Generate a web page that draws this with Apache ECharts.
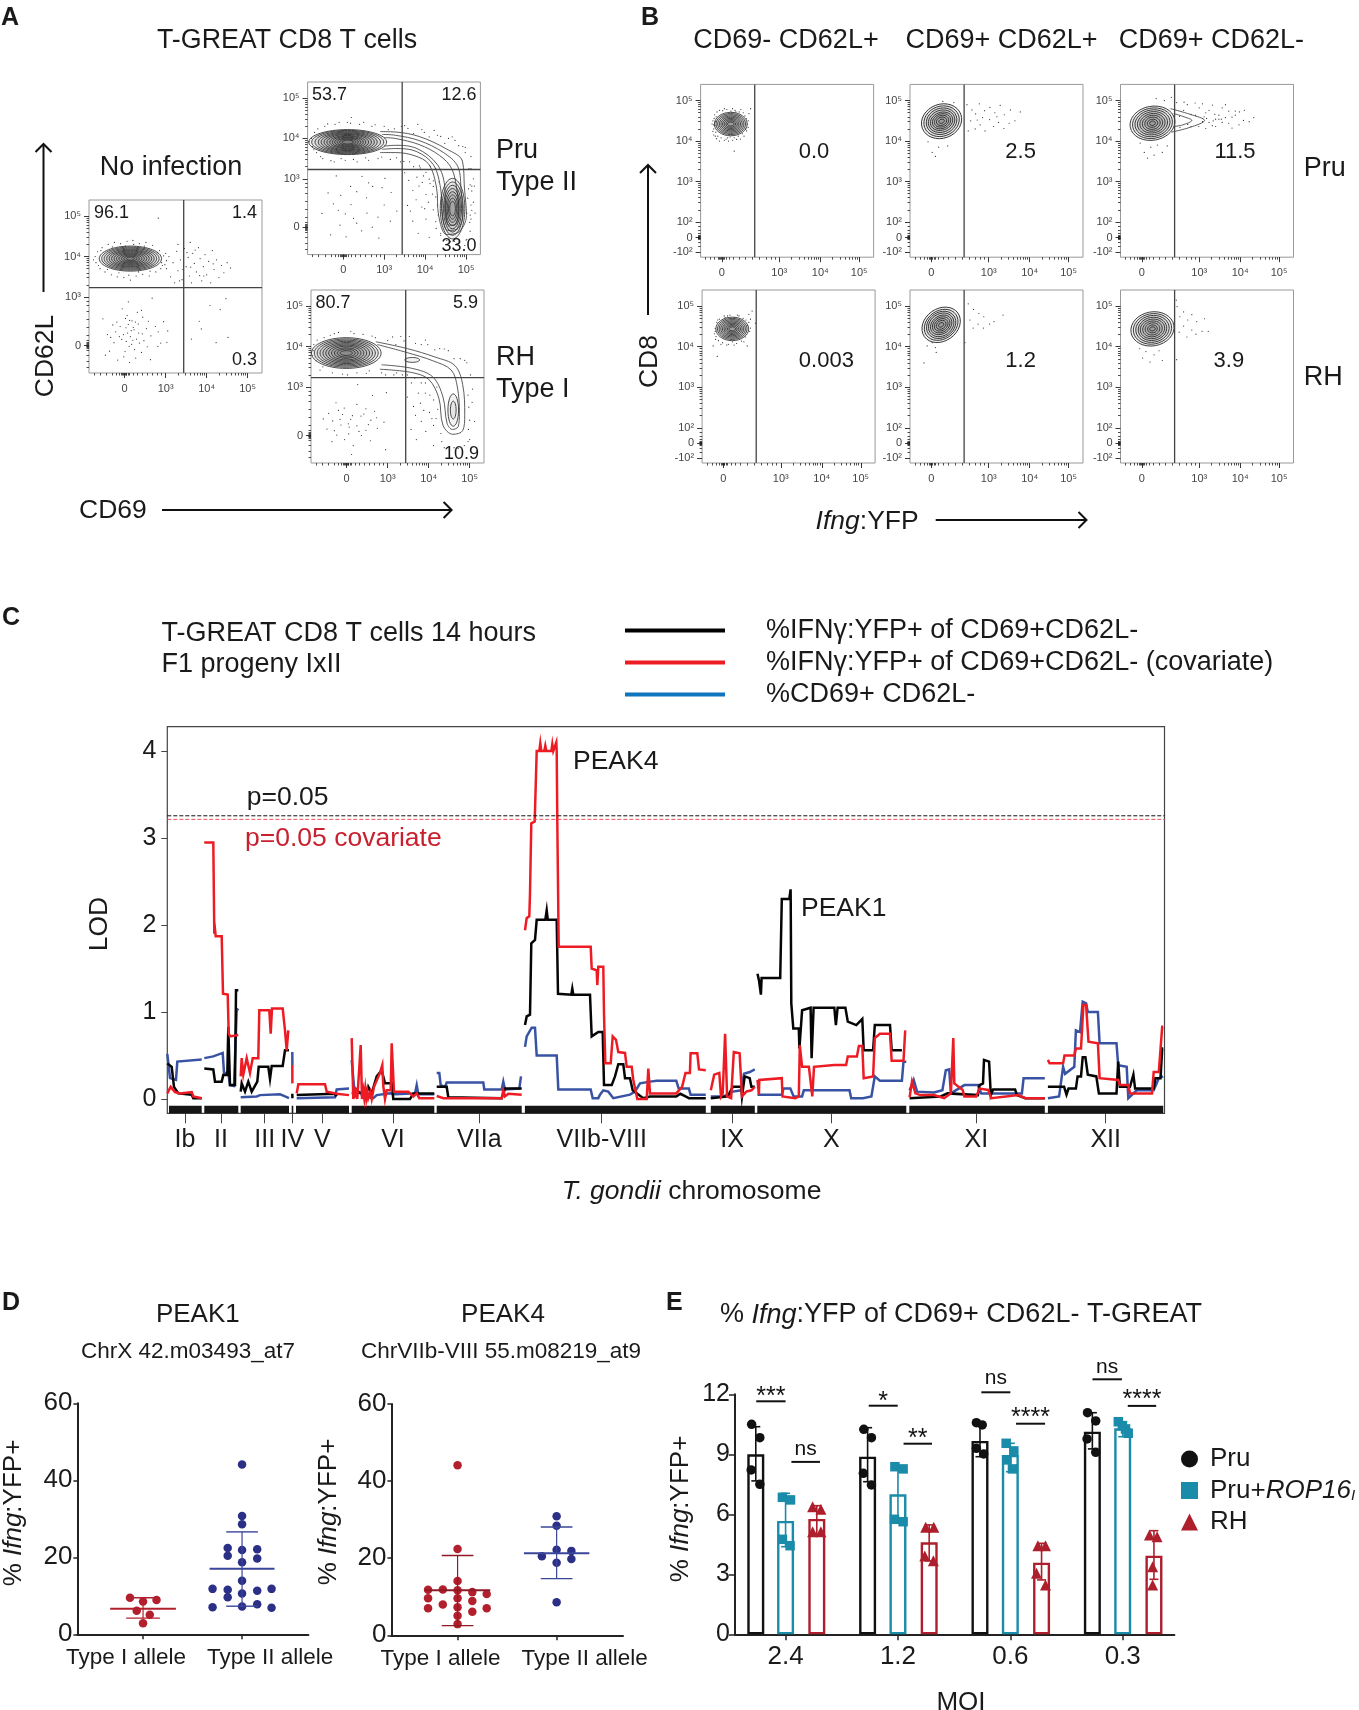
<!DOCTYPE html>
<html><head><meta charset="utf-8">
<script src="https://cdn.jsdelivr.net/npm/echarts@6/dist/echarts.min.js"></script>
<style>html,body{margin:0;padding:0;background:#fff}#c{width:1359px;height:1710px}</style></head>
<body><div id="c"></div>
<script>
const FF='"Liberation Sans", Arial, sans-serif';
const INK='#1a1a1a';

/* ---------- panel A : flow plots (axis units: display decades) ---------- */
const aXTicks=[0,1,2,3], aXLabels=['0','10³','10⁴','10⁵'];
const aYTicks=[0,1.2,2.2,3.2], aYLabels=['0','10³','10⁴','10⁵'];
const aGate=[1.44,1.43];

const noInfDots=[[-.53,.66],[-.42,.27],[-.37,-.14],[-.29,.51],[-.26,.07],[-.19,.58],[-.17,-.36],[-.13,.22],[-.06,.91],[-.07,.15],[.03,.44],[.01,-.15],[.07,.31],[.06,.74],[.11,-.02],[.16,.37],[.12,-.42],[.2,.13],[.18,.61],[.24,-.1],[.23,.39],[.31,.82],[.27,-.31],[.36,.06],[.33,.53],[.43,.29],[.41,-.17],[.44,.7],[.55,-.03],[.53,.42],[.63,-.35],[.64,.24],[.75,.47],[.81,-.02],[.82,.34],[.95,.59],[1.03,.08],[1.05,.36],[-.47,-.24],[.09,1.08],[.41,.87],[.67,1.17],[-.11,.47],[.04,.1],[.14,.22],[.21,.45],[.09,.52],[-.03,.27],[.29,.16],[.17,.03],[-.22,.34],[.34,.31],[.12,.62],[.02,.67],[.26,.58],[.47,.12],[-.34,.2],[.58,.6],[.88,.06],[-.02,-.28],[1.63,.16],[1.87,.41],[2.23,.07],[2.52,.2],[1.82,.6],[2.47,1.16],[2.08,.99],[2.33,.89],[1.02,1.9],[1.08,2.2],[1.12,1.7],[1.18,2.05],[1.22,1.55],[1.27,2.33],[1.3,1.85],[1.36,2.12],[1.4,1.63],[1.46,2.4],[1.5,1.95],[1.55,2.18],[1.58,1.72],[1.63,1.55],[1.66,2.28],[1.7,2.03],[1.75,1.82],[1.8,2.42],[1.84,2.15],[1.88,1.6],[1.92,1.95],[1.96,2.25],[2,1.75],[2.05,2.08],[2.1,1.55],[2.14,2.35],[2.18,1.88],[2.24,2.12],[2.3,1.68],[2.36,1.98],[2.42,1.8],[2.5,2.05],[2.58,1.92],[1.6,2.55],[1.3,2.5],[1.42,1.88],[1.72,2.36],[1.52,2.3],[1.93,1.72],[2.16,2.02],[1.34,1.6],[1.61,1.94],[1.83,1.73],[-.72,2.2],[-.7,2.05],[-.66,2.32],[-.6,1.9],[-.55,2.42],[-.48,1.82],[-.4,2.5],[-.32,1.75],[-.25,2.55],[-.18,1.7],[-.1,2.52],[-.02,1.68],[.06,2.58],[.14,1.62],[.2,2.6],[.28,1.72],[.36,2.52],[.44,1.76],[.52,2.55],[.6,1.72],[.68,2.48],[.76,1.82],[.85,2.35],[.88,1.9],[.95,2.22],[.9,2.05],[1.02,2.1],[.82,3.15],[-.76,2.12],[-.64,1.98],[-.58,2.35],[-.42,1.88],[-.3,2.44],[-.14,1.8],[.02,2.46],[.1,1.74],[.22,2.5],[.34,1.82],[.48,2.46],[.62,1.84],[.8,2.3],[.92,1.98],[1,2.28],[.98,2]];
const noInfRings=[[.14,2.15,.76,.31,0],[.14,2.15,.7,.285,0],[.14,2.15,.64,.26,0],[.14,2.15,.58,.235,0],[.14,2.15,.52,.21,0],[.14,2.15,.46,.19,0],[.14,2.15,.4,.165,0],[.14,2.15,.34,.14,0],[.14,2.15,.28,.115,0],[.14,2.15,.22,.09,0],[.14,2.15,.16,.065,0],[.14,2.15,.1,.04,0]];

const pruDots=[[-.52,.34],[-.37,.85],[-.31,-.19],[-.24,.58],[-.17,1.27],[-.08,.05],[-.06,.79],[.05,.33],[.07,-.24],[.18,1.01],[.19,.56],[.33,.1],[.33,.88],[.45,-.09],[.46,1.26],[.58,.35],[.57,.73],[.71,0],[.72,1.01],[.85,.25],[.87,-.27],[1,.55],[1.02,1.21],[1.15,.15],[1.17,.86],[1.31,.4],[.25,.22],[.62,1.1],[.95,.98],[-.12,.42],[1.5,1.35],[1.57,.54],[1.6,1.16],[1.7,.15],[1.7,.91],[1.8,1.24],[1.83,-.15],[1.92,.5],[1.93,1.11],[2.02,.2],[2.02,.81],[2.1,1.19],[2.1,-.25],[2.2,.43],[2.2,1.01],[2.27,-.03],[2.26,1.46],[2.13,1.51],[1.64,.4],[1.78,.68],[1.99,.46],[1.85,1.02],[2.08,.62],[1.96,1.27],[3.12,.55],[3.12,.2],[3.1,1.05],[3.14,.9],[3.07,1.45],[3.1,-.1],[3.22,.35],[3.02,-.3],[2.72,-.35],[2.83,-.37],[2.53,-.33],[2.97,-.45],[2.38,-.15],[3.18,.62],[3.2,1.02],[3.14,.42],[3.09,.12],[1.42,2.5],[1.58,2.45],[1.82,2.55],[1.98,2.35],[2.22,2.4],[2.38,2.25],[2.57,2.2],[2.73,2.15],[2.92,2],[2.98,1.85],[3.12,1.75],[1.48,1.63],[1.72,1.5],[1.88,1.47],[-.78,2.2],[-.75,2],[-.7,2.35],[-.65,1.85],[-.55,1.75],[-.45,2.5],[-.3,1.65],[-.2,2.55],[-.05,1.7],[.1,2.6],[.25,1.68],[.4,2.55],[.55,1.72],[.7,2.5],[.85,1.7],[1,2.5],[1.15,1.68],[1.3,1.72],[.2,2.72],[2.26,.75],[2.2,1.15],[2.32,.3],[3.02,.35],[3.06,.95],[3.18,1.2],[-.84,2.12],[-.72,1.92],[-.62,2.44],[-.5,1.7],[-.38,2.56],[-.22,1.62],[-.1,2.6],[.05,1.66],[.18,2.58],[.34,1.62],[.5,2.6],[.62,1.66],[.78,2.54],[.94,1.74],[1.1,2.42],[1.25,2.44],[1.5,2.52],[1.72,2.32],[1.92,2.42],[2.1,2.24],[2.3,2.28],[2.48,2.08],[2.66,2.24],[2.82,2.02],[2.98,1.98],[3.12,1.45],[3.14,1.02],[3.04,.72],[3.1,.3],[2.34,1.12],[2.3,.55],[2.26,.14],[2.18,.82],[2.12,1.08],[2.02,1.36],[1.86,1.52],[1.62,1.62],[1.4,1.62],[2.38,-.2],[2.62,-.36],[2.78,-.4],[3,-.32]];
const pruRings=[[.11,2.11,.95,.31,0],[.11,2.11,.88,.29,0],[.11,2.11,.8,.27,0],[.11,2.11,.72,.25,0],[.11,2.11,.65,.23,0],[.11,2.11,.58,.21,0],[.11,2.11,.51,.19,0],[.11,2.11,.44,.165,0],[.11,2.11,.38,.145,0],[.11,2.11,.32,.12,0],[.11,2.11,.26,.1,0],[.11,2.11,.2,.075,0],[.11,2.11,.14,.05,0],[2.67,.46,.3,.75,0],[2.67,.46,.26,.66,0],[2.67,.46,.22,.58,0],[2.67,.46,.19,.5,0],[2.67,.46,.16,.42,0],[2.67,.46,.13,.34,0],[2.67,.46,.1,.26,0],[2.67,.46,.07,.18,0]];
const pruContourA=[[.9,2.37],[1.27,2.36],[1.85,2.25],[2.52,1.94],[2.91,1.64],[2.96,.97],[3.01,.29],[2.81,-.13],[2.52,-.18],[2.33,.29],[2.28,.97],[2.09,1.56],[1.75,1.77],[1.27,1.85],[.9,1.85]];
const pruContourB=[[.95,2.3],[1.27,2.28],[1.85,2.15],[2.45,1.85],[2.8,1.5],[2.88,.9],[2.92,.3],[2.78,-.05],[2.55,-.08],[2.42,.3],[2.38,.95],[2.2,1.55],[1.78,1.88],[1.27,1.95],[.95,1.93]];
const pruContourC=[[1,2.22],[1.27,2.2],[1.85,2.05],[2.35,1.78],[2.65,1.45],[2.78,.9],[2.82,.4],[2.72,.05],[2.58,.05],[2.5,.4],[2.48,1],[2.3,1.55],[1.8,1.95],[1.27,2.03],[1,2.01]];

const rhDots=[[-.57,.41],[-.48,.16],[-.44,.55],[-.36,-.15],[-.34,.36],[-.26,.81],[-.24,.01],[-.16,.4],[-.14,.26],[-.06,.68],[-.05,-.1],[.04,.29],[.06,.21],[.14,.49],[.16,-.25],[.25,.24],[.25,.77],[.36,0],[.35,.48],[.47,.13],[.47,.66],[.58,-.13],[.59,.38],[.73,.44],[.75,.18],[.91,.33],[.95,-.35],[.27,1.26],[.63,.99],[.97,1.06],[.12,-.47],[-.3,.12],[-.1,.52],[.1,.4],[.3,.1],[.42,.53],[-.2,.62],[.05,.04],[.53,.27],[.68,.6],[1.48,.95],[1.57,.15],[1.58,1.3],[1.68,.5],[1.7,-.1],[1.8,.8],[1.82,.35],[1.92,1.05],[1.93,.1],[2.02,.57],[2.03,1],[2.12,.25],[2.12,-.25],[2.22,.65],[2.2,1.2],[2.3,.05],[2.32,-.15],[1.63,.72],[1.88,.62],[2.08,.42],[1.75,1.05],[2.97,.15],[2.98,.7],[3.07,1.15],[2.96,1],[3.12,.35],[3,-.1],[2.87,-.25],[2.62,-.3],[2.38,-.3],[1.32,2.45],[1.53,2.45],[1.82,2.25],[1.98,2.25],[2.27,2.15],[2.48,2.1],[2.77,1.9],[2.93,1.8],[1.22,1.55],[1.48,1.5],[1.82,1.3],[-.82,2.1],[-.75,1.85],[-.8,2.25],[-.65,1.62],[-.55,2.42],[-.4,2.48],[-.35,1.55],[-.2,2.55],[-.1,1.52],[.1,2.58],[.25,1.55],[.4,2.5],[.55,1.6],[.7,2.42],[.85,1.55],[1,2.35],[1.15,1.5],[1.2,2.25],[-.84,1.98],[-.72,2.36],[-.58,1.7],[-.3,2.52],[.02,1.5],[.18,2.52],[.48,1.54],[.62,2.46],[.95,1.5],[1.12,2.44],[1.4,2.34],[1.68,2.28],[1.92,2.36],[2.15,2.12],[2.38,2.14],[2.62,1.9],[2.88,1.86],[3.02,1.5],[3,.38],[3.06,.82],[2.96,-.15],[2.72,-.32],[2.18,.42],[2.12,.88],[1.92,1.3],[1.66,1.42],[1.36,1.5]];
const rhRings=[[-.01,2.04,.85,.38,0],[-.01,2.04,.78,.35,0],[-.01,2.04,.71,.32,0],[-.01,2.04,.64,.29,0],[-.01,2.04,.57,.26,0],[-.01,2.04,.5,.23,0],[-.01,2.04,.43,.2,0],[-.01,2.04,.36,.17,0],[-.01,2.04,.29,.13,0],[-.01,2.04,.22,.1,0],[-.01,2.04,.15,.06,0],[1.6,1.87,.18,.06,0],[2.6,.63,.07,.22,0],[2.6,.63,.13,.4,0]];
const rhContourA=[[.71,2.32],[1.48,2.15],[2.16,1.94],[2.64,1.73],[2.83,1.26],[2.88,.5],[2.83,.12],[2.59,.03],[2.35,.25],[2.25,.92],[2,1.39],[1.58,1.56],[.81,1.64]];
const rhContourB=[[.75,2.25],[1.48,2.05],[2.1,1.85],[2.55,1.62],[2.7,1.2],[2.75,.55],[2.72,.22],[2.58,.15],[2.45,.3],[2.35,.95],[2.1,1.45],[1.6,1.66],[.85,1.75]];

/* ---------- panel B : flow plots ---------- */
const bXTicks=[0,1.4,2.4,3.35], bXLabels=['0','10³','10⁴','10⁵'];
const bYTicks=[-.75,-.385,0,1,2,3], bYLabels=['-10²','0','10²','10³','10⁴','10⁵'];
const bGate=.8;

const bPruNegDots=[[-.2,2.3],[-.22,2.5],[-.18,2.65],[-.2,2.15],[-.12,2.72],[-.1,2.12],[-.02,2.08],[.02,2.75],[.1,2.05],[.12,2.78],[.2,2.1],[.22,2.74],[.3,2.08],[.32,2.76],[.4,2.12],[.42,2.72],[.5,2.18],[.52,2.7],[.58,2.3],[.6,2.55],[.62,2.42],[.66,2.68],[.7,2.8],[.3,1.75],[-.14,2.6],[.56,2.62],[-.17,2.38],[-.15,2.22],[-.24,2.42],[-.06,2],[.16,2],[.45,2.05],[-.16,2.48],[.6,2.25],[-.2,2.4],[-.19,2.56],[-.16,2.12],[-.06,2.76],[.06,2.02],[.06,2.8],[.26,2.02],[.26,2.8],[.36,2.04],[.46,2.78],[.54,2.12],[.64,2.34],[.64,2.5],[-.22,2.24],[-.13,2.06],[.14,2.08],[.34,2.72]];
const bPruMidDots=[[.87,2.9],[.96,2.5],[.99,2.77],[1.07,2.3],[1.08,2.67],[1.17,2.92],[1.19,2.4],[1.3,2.75],[1.31,2.25],[1.42,2.53],[1.43,2.83],[1.52,2.36],[1.55,2.7],[1.64,2.46],[1.68,2.88],[1.77,2.31],[1.78,2.65],[1.9,2.44],[1.93,2.77],[2.04,2.5],[2.17,2.72],[.9,2.25],[-.08,1.98],[.02,1.72],[.18,1.85],[.4,1.88],[.1,1.62],[.28,2.98],[.55,2.95],[1.12,2.52],[1.25,2.58],[1.6,2.6]];
const bPruPosDots=[[.85,2.95],[.92,2.61],[.93,2.34],[1.02,2.76],[1.03,2.96],[1.12,2.41],[1.11,2.9],[1.2,2.66],[1.2,2.36],[1.3,2.94],[1.31,2.64],[1.39,2.36],[1.4,2.82],[1.48,2.48],[1.48,2.92],[1.56,2.31],[1.56,2.7],[1.64,2.46],[1.64,2.76],[1.72,2.38],[1.72,2.89],[1.8,2.54],[1.8,2.36],[1.88,2.64],[1.88,2.54],[1.96,2.82],[1.96,2.46],[2.04,2.58],[2.04,2.9],[2.12,2.44],[2.12,2.74],[2.2,2.32],[2.2,2.59],[2.28,2.74],[2.28,2.64],[2.37,2.4],[2.38,2.72],[2.48,2.51],[2.5,2.76],[2.62,2.48],[2.73,2.58],[1.52,2.6],[1.58,2.56],[1.74,2.5],[1.78,2.66],[1.94,2.54],[-.04,1.95],[.06,1.72],[.14,1.58],[.22,1.85],[.3,1.65],[.38,1.9],[.5,1.72],[.62,1.88],[.35,3.05],[.55,3],[.72,3.08]];
const bRhNegDots=[[-.18,2.25],[-.2,2.45],[-.16,2.6],[-.12,2.15],[-.1,2.68],[-.02,2.1],[.04,2.72],[.12,2.06],[.16,2.78],[.22,2.12],[.28,2.72],[.32,2.08],[.38,2.76],[.44,2.14],[.48,2.7],[.54,2.24],[.58,2.52],[.62,2.8],[.64,2.38],[.66,2.68],[.7,2.88],[-.22,2.32],[-.25,2.02],[-.15,1.76],[.58,2.02],[.78,2.58],[-.2,2.38],[-.19,2.18],[-.14,2.66],[-.06,2.06],[.02,2.76],[.08,2.04],[.1,2.76],[.26,2.04],[.34,2.78],[.5,2.12],[.55,2.66],[.62,2.6],[.66,2.46]];
const bRhMidDots=[[.9,3.06],[.94,2.66],[1.02,2.46],[1.03,2.92],[1.14,2.56],[1.16,2.82],[1.27,2.46],[1.28,2.74],[1.42,2.56],[1.53,2.62],[1.75,2.78],[.82,2.1],[-.1,2.02],[.02,2.1],[.1,1.98],[-.18,1.6],[.12,1.86]];
const bRhPosDots=[[.86,2.99],[.91,2.36],[.93,2.74],[1.02,2.51],[1.02,2.86],[1.1,2.24],[1.12,2.66],[1.22,2.41],[1.22,2.79],[1.32,2.31],[1.34,2.62],[1.47,2.38],[1.53,2.69],[1.62,2.38],[.84,3.15],[.02,1.72],[.1,1.88],[.2,1.62],[.3,1.8],[.42,1.9],[.5,1.66],[.85,1.68],[-.05,1.95]];

const bPruNegRings=[[.216,2.42,.4,.29,0],[.216,2.42,.36,.26,0],[.216,2.42,.32,.23,0],[.216,2.42,.28,.2,0],[.216,2.42,.24,.17,0],[.216,2.42,.2,.14,0],[.216,2.42,.16,.11,0],[.216,2.42,.12,.08,0],[.216,2.42,.08,.05,0]];
const bPruMidRings=[[.25,2.49,.5,.42,20],[.25,2.49,.44,.37,20],[.25,2.49,.38,.32,20],[.25,2.49,.33,.27,20],[.25,2.49,.28,.22,20],[.25,2.49,.23,.18,20],[.25,2.49,.18,.14,20],[.25,2.49,.13,.1,20],[.25,2.49,.07,.05,20]];
const bPruPosRings=[[.26,2.44,.55,.42,10],[.26,2.44,.49,.375,10],[.26,2.44,.43,.33,10],[.26,2.44,.37,.285,10],[.26,2.44,.31,.24,10],[.26,2.44,.25,.195,10],[.26,2.44,.19,.15,10],[.26,2.44,.13,.1,10],[.26,2.44,.07,.055,10]];
const bPruTailA=[[.7,2.8],[1.18,2.66],[1.53,2.51],[1.18,2.34],[.72,2.22]];
const bPruTailB=[[.78,2.68],[1,2.61],[1.22,2.51],[1,2.4],[.78,2.36]];
const bRhNegRings=[[.216,2.44,.4,.29,0],[.216,2.44,.36,.26,0],[.216,2.44,.32,.23,0],[.216,2.44,.28,.2,0],[.216,2.44,.24,.17,0],[.216,2.44,.2,.14,0],[.216,2.44,.16,.11,0],[.216,2.44,.12,.08,0],[.216,2.44,.08,.05,0]];
const bRhMidRings=[[.24,2.54,.5,.4,35],[.24,2.54,.44,.35,35],[.24,2.54,.38,.31,35],[.24,2.54,.33,.27,35],[.24,2.54,.28,.22,35],[.24,2.54,.23,.18,35],[.24,2.54,.18,.14,35],[.24,2.54,.13,.1,35],[.24,2.54,.07,.05,35]];
const bRhPosRings=[[.26,2.44,.53,.42,10],[.26,2.44,.47,.375,10],[.26,2.44,.41,.33,10],[.26,2.44,.35,.285,10],[.26,2.44,.3,.24,10],[.26,2.44,.24,.195,10],[.26,2.44,.18,.15,10],[.26,2.44,.12,.1,10],[.26,2.44,.07,.05,10]];

/* ---------- panel C : LOD traces, one list per chromosome ---------- */
const chrTicks=[17.7,53.7,97.4,125,155,225.7,312,434.4,564.8,664,809,938.4];
const chrLabels=['Ib','II','III','IV','V','VI','VIIa','VIIb-VIII','IX','X','XI','XII'];
const chrSpans=[[1.7,34.4],[37,71],[73.4,121.7],[124.4,126],[128.7,181.7],[184.4,267],[269.4,354.4],[357.6,538.5],[543.5,587.5],[590,739],[742,877.5],[880.6,995.9]];
const lodTicks=[0,1,2,3,4];
const thresholdBlack=3.256, thresholdRed=3.215;

const redTrace=[
[[0,.065],[3.4,.14],[7.7,.08],[12.7,.065],[24.4,.08],[26,.03],[34.4,.01]],
[[37,2.95],[46,2.95],[47,1.9],[47.7,1.95],[48.4,1.87],[54.4,1.87],[55.7,1.21],[60.4,1.2],[61.4,.755],[62.7,.72],[71,.735]],
[[73.4,.26],[74.4,.47],[76,.28],[79.4,.47],[82.7,.3],[85.4,.47],[91,.47],[92,1.02],[102,1.02],[103.4,.75],[104.7,1.04],[115.4,1.04],[117.7,.79],[119.4,.56],[121,.79]],
[[125,.39],[125.1,.18]],
[[129.4,.065],[131,.17],[157.7,.17],[159.4,.085],[169.4,.06],[181.7,.045]],
[[184.4,.7],[186,0],[187,.14],[188,.01],[189,.12],[190,0],[192,0],[193.4,.62],[194.7,0],[196,.1],[197,.01],[198,.12],[199,.01],[200,.09],[201,.01],[203,.08],[204.4,0],[206.7,.14],[212.7,.3],[215,.39],[216,.15],[217.7,0],[219.4,.1],[223.4,.1],[224.4,.64],[226,.64],[226.7,.085],[241,.085],[246,.03],[249.4,.065],[252,.01],[267,.01]],
[[269.4,.035],[276,.01],[334.4,.01],[336,.1],[337.7,.03],[341,.06],[354.4,.05]],
[[357.7,1.94],[359.4,2.08],[362,2.1],[362.7,2.36],[364,3.17],[367.4,3.19],[369.4,4],[372,4],[373,4.09],[374,4],[377,4],[378,4.06],[379,4],[384,4],[385,4.08],[386,4],[388,4],[389,4.1],[389.4,4],[390,3.2],[391.4,1.75],[423.4,1.75],[424.4,1.5],[429.4,1.48],[430,1.31],[431,1.52],[436,1.52],[436.7,.98],[438,.41],[443.4,.41],[445.4,.72],[448.7,.68],[451,.54],[457.7,.53],[459.4,.37],[464.4,.37],[466,.22],[470,0],[479.4,0],[481,.35],[482.7,.065],[509,.065],[514.8,.14],[518.2,.3],[522.6,.3],[523.3,.525],[530,.525],[531.7,.34],[538.5,.33]],
[[543.5,.1],[546.9,.28],[552,.3],[553.7,.03],[555.4,.065],[557.8,.75],[559.8,.03],[563.8,.01],[566.5,.54],[572.3,.525],[574.7,.03],[579,.085],[584.1,.1],[587.5,.14]],
[[590.2,.22],[591.6,.05],[592,.22],[614.5,.24],[615.2,.03],[628,.01],[631.5,.03],[632.5,.62],[634.8,.37],[641.6,.37],[645,.03],[646.7,.37],[667,.39],[678.8,.39],[680.5,.49],[689.6,.49],[691.6,.61],[695,.61],[696.4,.24],[705.8,.26],[707.5,.7],[712.6,.75],[722.7,.75],[724.4,.44],[736.2,.44],[737.9,.79]],
[[742.3,.02],[744.7,.2],[748.1,.065],[753.1,.045],[766.7,.045],[776.8,.01],[783.6,.065],[786,.7],[787,.18],[795.4,.105],[797.1,.03],[808.9,.03],[812.3,.12],[820.8,.105],[824.1,.01],[851.2,.045],[858,.01],[877.5,.01]],
[[880.6,.45],[882.3,.41],[895.8,.41],[897.2,.5],[907,.5],[908.6,.58],[913.7,.58],[916.1,1.08],[918.8,1.08],[921.2,.66],[930.6,.64],[932.3,.24],[950.9,.22],[952.6,.16],[961,.16],[962.7,.065],[984.7,.065],[986.4,.31],[991.5,.31],[994.9,.83],[995.9,.83]]];

const blackTrace=[
[[0,.41],[4.4,.37],[6.7,.14],[11,.065],[24.4,.05],[26,.01],[34.4,.01]],
[[37,.35],[46,.34],[47.7,.2],[54.4,.2],[56,.275],[60,.275],[61,.83],[62.7,.16],[67.7,.16],[68.7,1.25],[71,1.25]],
[[73.4,.085],[74.4,.18],[77.7,.085],[81,.2],[84.4,.085],[90,.2],[91.4,.37],[101,.37],[102.7,.23],[104.4,.38],[115.4,.38],[117.7,.56],[121.7,.56]],
[[125,.06],[125.1,.01]],
[[129.4,.046],[131,.065],[167.7,.06],[169.4,.03]],
[[184.4,.065],[199.4,.08],[201,.14],[204.4,.065],[209.4,.26],[214.4,.33],[217.7,.18],[224.4,.18],[226,0],[242.7,0],[246,.065],[267,.065]],
[[269.4,.14],[279.4,.14],[281,.02],[334.4,.01],[337.7,.12],[350,.12],[354.4,.12]],
[[357.7,.85],[359.4,.95],[362.7,.97],[364,1.79],[367.7,1.83],[369.4,2.06],[378,2.06],[379.4,2.17],[380.5,2.06],[389.4,2.06],[390.7,1.21],[404,1.2],[405,1.27],[406,1.2],[422.7,1.2],[424.4,.72],[431,.77],[435.4,.77],[436.7,.16],[444.4,.16],[447.7,.26],[451,.4],[456,.4],[457.7,.24],[462.7,.24],[465.4,.1],[476,.01],[482.7,.03],[509,.03],[513,.06],[518.2,.03],[521.6,.01],[538.5,.01]],
[[543.5,.01],[560.5,.03],[565.5,.14],[574,.14],[574.7,.03],[577.4,.26],[582.4,.24],[584.1,.14],[587.5,.14]],
[[590.2,1.44],[591.6,1.37],[593,1.39],[593.6,1.2],[594.3,1.39],[612.9,1.39],[614.5,2.3],[622,2.3],[623.3,2.41],[623.4,2.3],[624,1.1],[626,.81],[631.5,.81],[632.1,.58],[634.8,1.02],[643.3,1.05],[644.3,.47],[646.3,1.05],[667,1.05],[668.6,.85],[670.3,1.05],[678.1,1.05],[680.5,.89],[689,.85],[695,.92],[696.4,.56],[705.8,.56],[707.5,.85],[722.7,.85],[724.4,.56],[734.6,.56]],
[[742.3,.01],[773.4,.03],[780.2,.065],[810.6,.045],[812.3,.16],[815.7,.18],[816.7,.45],[821.8,.43],[823.5,.045],[825.8,.11],[847.8,.11],[849.5,.045],[858,.01],[877.5,.01]],
[[880.6,.14],[896.8,.14],[899.2,.05],[901.2,.12],[908.6,.12],[910.3,.26],[913.7,.26],[915.4,.48],[918.1,.48],[920.5,.28],[929,.26],[931.6,.065],[949.2,.065],[950.9,.43],[952.6,.14],[962.7,.14],[966.1,.28],[967.8,.12],[986.4,.12],[988.1,.24],[993.2,.24],[994.9,.58],[995.9,.58]]];

const blueTrace=[
[[0,.52],[2.7,.24],[8.7,.22],[10,.43],[34.4,.455]],
[[37,.47],[46,.49],[55.4,.53],[56.7,.3],[61,.3],[62.7,.16],[66.7,.15],[69.4,1.02],[71,1.04]],
[[73.4,.02],[89.4,.03],[92.7,.045],[112.7,.055],[116,.04],[121.7,.01]],
[[125,.54],[125.1,.39]],
[[129.4,.01],[167.7,.02],[169.4,.11],[181.7,.12]],
[[184.4,.45],[186.7,.14],[196,.03],[206,.01],[209.4,.045],[222.7,.065],[227.7,.055],[247.7,.065],[249.4,.16],[251,.055],[267,.055]],
[[269.4,.3],[272,.3],[273.4,.16],[277.7,.14],[279.4,.19],[316,.19],[317,.11],[334.4,.11],[336,.2],[337.7,.11],[352,.12],[353.7,.26]],
[[357.7,.6],[359.4,.72],[364.4,.82],[367.7,.82],[369.4,.5],[389.4,.5],[391,.11],[423.4,.11],[425.4,.01],[431,.01],[432.7,.05],[436,.1],[441,.085],[446,.01],[462.7,.05],[467.7,.085],[472.7,.18],[482.7,.2],[489.5,.21],[509,.21],[511.4,.12],[521.6,.12],[523.3,.05],[538.5,.05]],
[[543.5,.03],[555.4,.03],[560.5,.05],[565.5,.085],[574,.1],[576.7,.29],[582.4,.31],[587.5,.34]],
[[590.2,.05],[614.5,.05],[616.2,.12],[623,.12],[626.4,.03],[634.8,.03],[636.5,.1],[682.2,.1],[683.9,.01],[695.7,.01],[704.1,.03],[707.5,.26],[712.6,.21],[734.6,.21],[736.2,.43],[739,.43]],
[[742.3,.1],[746.4,.22],[749.8,.085],[766.7,.075],[775.1,.1],[778.5,.33],[781.9,.34],[783.6,.065],[797.1,.16],[810.6,.16],[814,.065],[854.6,.065],[856.3,.24],[877.5,.24]],
[[880.6,.01],[891.8,.03],[895.8,.37],[897.8,.29],[907,.37],[908.6,.79],[912.7,.77],[915.4,1.12],[918.8,1.1],[920.5,1],[930.6,1],[932.3,.64],[949.2,.64],[950.9,.39],[959.4,.37],[961,.01],[969.5,.1],[986.4,.1],[991.5,.24],[995.9,.26]]];

/* ---------- panel D ---------- */
const alleleLabels=['Type I allele','Type II allele'];
const peak1TypeI=[[.868,9.5],[1,8.5],[1.136,8.9],[.936,6.1],[1.068,5.1],[1,2.9]];
const peak1TypeII=[[2,44.1],[2,30.7],[2,28.6],[1.855,22.4],[2,21.9],[2.153,22.1],[1.855,20.4],[2.153,19.7],[2,18.7],[2,13.9],[1.702,11.8],[1.855,11.6],[2.153,11.3],[2.298,11.8],[2,10.6],[1.855,9.6],[1.702,7],[2,7.2],[2.153,7.8],[2.298,6.9]];
const peak4TypeI=[[1,44.1],[1,22.4],[1,14.1],[.702,11.8],[.851,11.9],[1,11.7],[1.149,11.2],[1.294,10.7],[.702,9.6],[1.149,8.9],[1,9.6],[.851,8],[.702,7],[1,7.3],[1.294,7],[1.149,6.1],[1,5.1],[1,2.9]];
const peak4TypeII=[[2,30.9],[2,28.4],[2,22.2],[2.149,21.9],[1.851,20.5],[2.149,19.8],[2,18.8],[2,8.6]];
/* x, mean, low, high, half mean line, half cap */
const peak1StatsI=[[1,6.65,4.2,9.5,.332,.17]];
const peak1StatsII=[[2,17,7.3,26.6,.328,.16]];
const peak4StatsI=[[1,11.7,2.5,20.7,.33,.16]];
const peak4StatsII=[[2,21.3,14.7,28.1,.33,.16]];

/* ---------- panel E ---------- */
const moiTicks=[1,2,3,4], moiLabels=['2.4','1.2','0.6','0.3'];
const pruBars=[[.735,9],[1.73,8.88],[2.73,9.67],[3.73,10.13]];
const ropBars=[[1,5.67],[2,7],[3,8.97],[4,10.3]];
const rhBars=[[1.278,5.77],[2.278,4.6],[3.278,3.58],[4.278,3.93]];
const pruErr=[[.735,7.67,10.38],[1.73,7.63,10.33],[2.73,8.88,10.55],[3.73,9.27,11.08]];
const ropErr=[[1,4.38,7.05],[2,5.72,8.25],[3,8.13,9.55],[4,9.88,10.63]];
const rhErr=[[1.278,4.97,6.43],[2.278,3.67,5.47],[3.278,2.72,4.55],[4.278,2.75,5.18]];
const pruPts=[[.698,10.5],[.771,9.83],[.694,8.22],[.771,7.5],[1.696,10.25],[1.764,9.83],[1.692,8.05],[1.764,7.47],[2.698,10.58],[2.75,10.47],[2.698,9.3],[2.763,9.02],[3.687,11.08],[3.76,10.67],[3.683,9.77],[3.76,9.1]];
const ropPts=[[.972,6.85],[1.044,6.72],[.972,4.75],[1.04,4.43],[1.973,8.38],[2.046,8.27],[1.969,5.75],[2.046,5.63],[2.963,9.55],[3.031,9.17],[2.971,8.72],[3.019,8.27],[3.961,10.63],[3.997,10.43],[4.025,10.27],[4.049,10.05]];
const rhPts=[[1.241,6.38],[1.314,6.25],[1.241,5.13],[1.314,5.13],[2.247,5.35],[2.319,5.35],[2.239,3.92],[2.315,3.68],[3.245,4.43],[3.313,4.43],[3.233,3.05],[3.313,2.47],[4.238,4.97],[4.306,4.88],[4.266,3.38],[4.266,2.47]];
const sigLabels=['***','ns','*','**','ns','****','ns','****'];
/* x0, x1, line y, text y */
const sigMarks=[[.739,1,11.65,12.13],[1.052,1.306,8.62,9.18],[1.74,1.998,11.43,11.88],[2.05,2.303,9.53,10.02],[2.742,3,12.1,12.77],[3.051,3.309,10.53,11.05],[3.731,3.993,12.75,13.3],[4.045,4.298,11.42,11.97]];

/* ========== layout ========== */
const grid=[],xAxis=[],yAxis=[],series=[];
const minorFrac=[.3,.48,.6,.7,.78,.85,.9,.95];
const decadeMinor=(starts)=>starts.flatMap(d=>minorFrac.map(f=>d+f));
const nearest=(arr,v)=>{let b=0;arr.forEach((a,i)=>{if(Math.abs(a-v)<Math.abs(arr[b]-v))b=i});return b};
const tickLab={fontFamily:FF,fontSize:11,color:'#444'};

function flowAxes(g,x,y){
  const gi=grid.length;
  grid.push({left:g[0],top:g[1],width:g[2],height:g[3],show:true,borderColor:'#999',borderWidth:1,containLabel:false,backgroundColor:'transparent'});
  const xi=xAxis.length, yi=yAxis.length;
  const mk=(c,isX)=>[
    {type:'value',gridIndex:gi,min:c.min,max:c.max,position:isX?'bottom':'left',axisLine:{show:false,onZero:false},splitLine:{show:false},axisLabel:{show:false},
      axisTick:{show:true,length:c.minorLen||2.5,customValues:c.minor,lineStyle:{color:'#222',width:.8}}},
    {type:'value',gridIndex:gi,min:c.min,max:c.max,position:isX?'bottom':'left',axisLine:{show:false,onZero:false},splitLine:{show:false},
      axisLabel:Object.assign({},tickLab,{margin:isX?10:8,customValues:c.ticks,formatter:v=>c.labels[nearest(c.ticks,v)]}),
      axisTick:{show:true,length:5,customValues:c.ticks,lineStyle:{color:'#222',width:.9}}}];
  xAxis.push(...mk(x,true)); yAxis.push(...mk(y,false));
  return {xAxisIndex:xi+1,yAxisIndex:yi+1};
}
function ellipseItem(p,api){
  const c=api.coord([api.value(0),api.value(1)]), s=api.size([1,1]);
  return {type:'ellipse',x:c[0],y:c[1],rotation:api.value(4)*Math.PI/180,
    shape:{cx:0,cy:0,rx:api.value(2)*s[0],ry:api.value(3)*s[1]},
    style:{fill:'rgba(0,0,0,.05)',stroke:'#2a2a2a',lineWidth:.85}};
}
function flowSeries(ax,dots,rings,contours,gates){
  gates.forEach(l=>series.push(Object.assign({type:'line',data:l,showSymbol:false,silent:true,lineStyle:{color:'#444',width:1.3},z:5},ax)));
  series.push(Object.assign({type:'scatter',data:dots,symbolSize:1.2,itemStyle:{color:'#333',opacity:1},silent:true,z:2},ax));
  series.push(Object.assign({type:'custom',data:rings,renderItem:ellipseItem,silent:true,z:3,encode:{x:0,y:1}},ax));
  contours.forEach(k=>series.push(Object.assign({type:'line',data:k,smooth:.35,showSymbol:false,silent:true,lineStyle:{color:'#333',width:.8},z:3},ax)));
}
const aXcfg={min:-.87,max:3.35,ticks:aXTicks,labels:aXLabels,minor:[-.75,-.6,-.45,-.3,-.2,-.12,-.08,-.05,-.03,-.01,.01,.03,.05,.08,.12,.2,.3,.42,.55,.68,.8,.9,...decadeMinor([1,2])]};
const aYcfg={min:-.68,max:3.6,ticks:aYTicks,labels:aYLabels,minor:[-.55,-.4,-.25,-.12,-.08,-.05,-.03,-.01,.01,.03,.05,.08,.12,.25,.45,.65,.85,1,1.1,...decadeMinor([1.2,2.2])]};
const bXcfg={min:-.52,max:3.7,ticks:bXTicks,labels:bXLabels,minor:[-.4,-.28,-.18,-.1,-.06,-.03,-.01,.01,.03,.06,.1,.18,.28,.42,.58,.75,.92,1.08,1.2,1.3,...decadeMinor([1.4,2.4])]};
const bYcfg={min:-.87,max:3.4,ticks:bYTicks,labels:bYLabels,minor:[-.6,-.5,-.43,-.41,-.4,-.39,-.37,-.36,-.35,-.33,-.28,-.2,-.1,...decadeMinor([0,1,2])]};

const aGates=[[[aGate[0],aYcfg.min],[aGate[0],aYcfg.max]],[[aXcfg.min,aGate[1]],[aXcfg.max,aGate[1]]]];
const bGates=[[[bGate,bYcfg.min],[bGate,bYcfg.max]]];

flowSeries(flowAxes([89,200,173,173],aXcfg,aYcfg),noInfDots,noInfRings,[],aGates);
flowSeries(flowAxes([307.6,82,172.8,172.6],aXcfg,aYcfg),pruDots,pruRings,[pruContourA,pruContourB,pruContourC],aGates);
flowSeries(flowAxes([311,290,173,173],aXcfg,aYcfg),rhDots,rhRings,[rhContourA,rhContourB],aGates);

const bCols=[700.6,910,1120.5], bRows=[84.4,290];
flowSeries(flowAxes([bCols[0],bRows[0],173,172.8],bXcfg,bYcfg),bPruNegDots,bPruNegRings,[],bGates);
flowSeries(flowAxes([bCols[1],bRows[0],173,172.8],bXcfg,bYcfg),bPruMidDots,bPruMidRings,[],bGates);
flowSeries(flowAxes([bCols[2],bRows[0],173,172.8],bXcfg,bYcfg),bPruPosDots,bPruPosRings,[bPruTailA,bPruTailB],bGates);
flowSeries(flowAxes([bCols[0]+1.5,bRows[1],173,173],bXcfg,bYcfg),bRhNegDots,bRhNegRings,[],bGates);
flowSeries(flowAxes([bCols[1],bRows[1],173,173],bXcfg,bYcfg),bRhMidDots,bRhMidRings,[],bGates);
flowSeries(flowAxes([bCols[2],bRows[1],173,173],bXcfg,bYcfg),bRhPosDots,bRhPosRings,[],bGates);

/* panel C */
const cG=grid.length, cX=xAxis.length, cY=yAxis.length;
grid.push({left:167.3,top:726.7,width:997.2,height:386.6,show:true,borderColor:'#444',borderWidth:1.2});
xAxis.push({type:'value',gridIndex:cG,min:0,max:997.2,splitLine:{show:false},axisLine:{show:false,onZero:false},
  axisTick:{show:true,length:10,customValues:chrTicks,lineStyle:{color:'#444',width:1}},
  axisLabel:{customValues:chrTicks,formatter:v=>chrLabels[nearest(chrTicks,v)],fontFamily:FF,fontSize:25,color:INK,margin:14,hideOverlap:false}});
yAxis.push({type:'value',gridIndex:cG,min:-.164,max:4.28,splitLine:{show:false},axisLine:{show:false,onZero:false},
  axisTick:{show:true,length:6,customValues:lodTicks,lineStyle:{color:'#444',width:1}},
  axisLabel:{customValues:lodTicks,formatter:v=>String(Math.round(v)),fontFamily:FF,fontSize:25,color:INK,margin:11}});
const joinChr=t=>t.flatMap((seg,i)=>i?[[seg[0][0],'-'],...seg]:seg);
const cAx={xAxisIndex:cX,yAxisIndex:cY};
const lodLine=(name,t,color,z)=>Object.assign({name,type:'line',data:joinChr(t),showSymbol:false,connectNulls:false,silent:true,z,lineStyle:{color,width:2.5,join:'miter'},itemStyle:{color}},cAx);
const legBlack='%IFNγ:YFP+ of CD69+CD62L-', legRed='%IFNγ:YFP+ of CD69+CD62L- (covariate)', legBlue='%CD69+ CD62L-';
series.push(lodLine(legBlue,blueTrace,'#3953A4',3),lodLine(legBlack,blackTrace,'#050505',4),lodLine(legRed,redTrace,'#ED1C24',5));
series.push(Object.assign({type:'line',data:chrSpans.flatMap((s,i)=>[...(i?[[s[0],'-']]:[]),[s[0],-.12],[s[1],-.12]]),showSymbol:false,silent:true,lineStyle:{color:'#161616',width:7.5,cap:'butt'},z:2},cAx));
series.push(Object.assign({type:'line',data:[[0,thresholdBlack],[997.2,thresholdBlack]],showSymbol:false,silent:true,lineStyle:{color:'#111',width:1,type:[4,2]},z:6},cAx));
series.push(Object.assign({type:'line',data:[[0,thresholdRed],[997.2,thresholdRed]],showSymbol:false,silent:true,lineStyle:{color:'#E8505A',width:1,type:[4,2]},z:6},cAx));

/* panel D */
function errItem(color,meanW,capW){return function(p,api){
  const x=api.value(0),m=api.value(1),lo=api.value(2),hi=api.value(3),mh=api.value(4),ch=api.value(5);
  const L=(a,b,w)=>{const A=api.coord(a),B=api.coord(b);return {type:'line',shape:{x1:A[0],y1:A[1],x2:B[0],y2:B[1]},style:{stroke:color,lineWidth:w}}};
  return {type:'group',children:[L([x,lo],[x,hi],1.2),L([x-ch,hi],[x+ch,hi],capW),L([x-ch,lo],[x+ch,lo],capW),L([x-mh,m],[x+mh,m],meanW)]};
}}
function dotPlot(g,xr,sets){
  const gi=grid.length,xi=xAxis.length,yi=yAxis.length;
  grid.push({left:g[0],top:g[1],width:g[2],height:g[3]});
  xAxis.push({type:'value',gridIndex:gi,min:xr[0],max:xr[1],splitLine:{show:false},axisLine:{show:true,onZero:false,lineStyle:{color:'#222',width:2}},
    axisTick:{show:true,length:5,customValues:[1,2],lineStyle:{color:'#222',width:1.5}},
    axisLabel:{customValues:[1,2],formatter:v=>v<1.5?'{a|'+alleleLabels[0]+'}':'{b|'+alleleLabels[1]+'}',margin:12,
      rich:{a:{fontFamily:FF,fontSize:22.5,color:INK,padding:[0,34,0,0]},b:{fontFamily:FF,fontSize:22.5,color:INK,padding:[0,0,0,56]}}}});
  yAxis.push({type:'value',gridIndex:gi,min:0,max:60,interval:20,splitLine:{show:false},axisLine:{show:true,lineStyle:{color:'#222',width:2}},
    axisTick:{show:true,length:4,lineStyle:{color:'#222',width:1.5}},axisLabel:{fontFamily:FF,fontSize:26,color:INK,margin:5}});
  sets.forEach(s=>{
    series.push({type:'scatter',xAxisIndex:xi,yAxisIndex:yi,data:s.pts,symbolSize:8.5,itemStyle:{color:s.color,opacity:1},silent:true,z:4});
    series.push({type:'custom',xAxisIndex:xi,yAxisIndex:yi,data:s.stats,renderItem:errItem(s.line||s.color,2,1.4),silent:true,z:5,encode:{x:0,y:1}});
  });
}
const dRed='#B2202D', dBlue='#2B2F86';
dotPlot([77.4,1403.3,231,231],[.337,2.67],[{pts:peak1TypeI,stats:peak1StatsI,color:dRed},{pts:peak1TypeII,stats:peak1StatsII,color:dBlue,line:'#3A4699'}]);
dotPlot([391.4,1404,231.6,231.3],[.332,2.67],[{pts:peak4TypeI,stats:peak4StatsI,color:dRed,line:'#8E1A26'},{pts:peak4TypeII,stats:peak4StatsII,color:dBlue,line:'#3A4699'}]);

/* panel E */
const eG=grid.length,eX=xAxis.length,eY=yAxis.length,eAx={xAxisIndex:eX,yAxisIndex:eY};
grid.push({left:735,top:1394.3,width:439.4,height:240});
xAxis.push({type:'value',gridIndex:eG,min:.55,max:4.46,splitLine:{show:false},axisLine:{show:true,onZero:false,lineStyle:{color:'#222',width:2}},
  axisTick:{show:true,length:6,customValues:moiTicks,lineStyle:{color:'#222',width:1.5}},
  axisLabel:{customValues:moiTicks,formatter:v=>moiLabels[nearest(moiTicks,v)],fontFamily:FF,fontSize:26,color:INK,margin:10}});
yAxis.push({type:'value',gridIndex:eG,min:0,max:12,interval:3,splitLine:{show:false},axisLine:{show:true,lineStyle:{color:'#222',width:2}},
  axisTick:{show:true,length:6,lineStyle:{color:'#222',width:1.5}},axisLabel:{fontFamily:FF,fontSize:25,color:INK,margin:5}});
const ePru='#111', eRop='#1A8BA8', eRh='#AE1F2D';
const legRop='Pru+ROP16I';
[[pruBars,pruErr,pruPts,ePru,'Pru','circle',9.5],[ropBars,ropErr,ropPts,eRop,legRop,'rect',9.5],[rhBars,rhErr,rhPts,eRh,'RH','triangle',11]].forEach(([b,e,p,c,n,sym,sz])=>{
  series.push(Object.assign({type:'bar',data:b,barWidth:17,barGap:'-100%',silent:true,z:2,itemStyle:{color:'rgba(255,255,255,0)',borderColor:c,borderWidth:2.4}},eAx));
  series.push(Object.assign({type:'custom',data:e,silent:true,z:3,encode:{x:0,y:1},renderItem:(pr,api)=>{
    const x=api.value(0),lo=api.value(1),hi=api.value(2),w=.04;
    const L=(a,b2)=>{const A=api.coord(a),B=api.coord(b2);return {type:'line',shape:{x1:A[0],y1:A[1],x2:B[0],y2:B[1]},style:{stroke:c,lineWidth:1.6}}};
    return {type:'group',children:[L([x,lo],[x,hi]),L([x-w,hi],[x+w,hi]),L([x-w,lo],[x+w,lo])]};
  }},eAx));
  series.push(Object.assign({name:n,type:'scatter',data:p,symbol:sym,symbolSize:sz,itemStyle:{color:c,opacity:1},silent:true,z:4},eAx));
});
series.push(Object.assign({type:'custom',data:sigMarks,silent:true,z:6,clip:false,encode:{x:0,y:2},renderItem:(p,api)=>{
  const A=api.coord([api.value(0),api.value(2)]),B=api.coord([api.value(1),api.value(2)]),T=api.coord([(api.value(0)+api.value(1))/2,api.value(3)]);
  const s=sigLabels[p.dataIndex],star=s[0]==='*';
  return {type:'group',children:[
    {type:'line',shape:{x1:A[0],y1:A[1],x2:B[0],y2:B[1]},style:{stroke:'#111',lineWidth:2}},
    {type:'text',x:T[0],y:T[1]+(star?5:-1),style:{text:s,fontFamily:FF,fontSize:star?25:21,fill:'#111',align:'center',verticalAlign:'middle'}}]};
}},eAx));

/* text and arrows */
const T=(text,x,y,size,o={})=>({type:'text',silent:true,z:20,x:o.rot?x+2:x,y:o.rot?y:y+2,rotation:o.rot||0,
  style:{text,fontFamily:FF,fontSize:size,fontWeight:o.bold?'bold':'normal',fill:o.color||INK,align:o.align||'left',verticalAlign:'middle',
    rich:{i:{fontStyle:'italic',fontFamily:FF,fontSize:size,fill:o.color||INK}}}});
const arrowV=(x,y0,y1)=>[{type:'line',silent:true,z:20,shape:{x1:x,y1:y0,x2:x,y2:y1},style:{stroke:'#111',lineWidth:2}},
  {type:'polyline',silent:true,z:20,shape:{points:[[x-8,y1+8],[x,y1],[x+8,y1+8]]},style:{stroke:'#111',lineWidth:2,fill:'none'}}];
const arrowH=(x0,x1,y)=>[{type:'line',silent:true,z:20,shape:{x1:x0,y1:y,x2:x1,y2:y},style:{stroke:'#111',lineWidth:2}},
  {type:'polyline',silent:true,z:20,shape:{points:[[x1-8,y-8],[x1,y],[x1-8,y+8]]},style:{stroke:'#111',lineWidth:2,fill:'none'}}];
const R90=Math.PI/2;
const graphicEls=[
  T('A',1,16,25,{bold:1}),T('B',641,16,25,{bold:1}),T('C',2,616,25,{bold:1}),T('D',2,1301,25,{bold:1}),T('E',666,1301,25,{bold:1}),
  T('T-GREAT CD8 T cells',287,39,26.8,{align:'center'}),T('No infection',171,166,27,{align:'center'}),
  T('Pru',496,149,27),T('Type II',496,181,27),T('RH',496,356,27),T('Type I',496,388,27),
  T('96.1',94,211,18),T('1.4',257,211,18,{align:'right'}),T('0.3',257,358,18,{align:'right'}),
  T('53.7',312,93,18),T('12.6',476.5,93,18,{align:'right'}),T('33.0',476.5,244,18,{align:'right'}),
  T('80.7',315.5,301,18),T('5.9',478,301,18,{align:'right'}),T('10.9',479,452,18,{align:'right'}),
  T('CD62L',43.5,356,26.5,{align:'center',rot:R90}),T('CD69',79,509,26.5),
  ...arrowV(43.5,292,144),...arrowH(162,451.6,510),
  T('CD69- CD62L+',786,38.6,27,{align:'center'}),T('CD69+ CD62L+',1001.5,38.6,27,{align:'center'}),T('CD69+ CD62L-',1211.4,38.6,27,{align:'center'}),
  T('Pru',1303.7,167,27),T('RH',1303.7,376,27),
  T('0.0',814,150,22,{align:'center'}),T('2.5',1020.6,150,22,{align:'center'}),T('11.5',1235,150,22,{align:'center'}),
  T('0.003',826.4,359,22,{align:'center'}),T('1.2',1020.6,359,22,{align:'center'}),T('3.9',1228.9,359,22,{align:'center'}),
  T('CD8',648,361.6,26.5,{align:'center',rot:R90}),...arrowV(648,315,165),
  T('{i|Ifng}:YFP',815.6,520,26.5),...arrowH(935.7,1086.5,520),
  T('T-GREAT CD8 T cells 14 hours',161.4,631.5,27),T('F1 progeny IxII',161.4,663,27),
  T('p=0.05',246.7,796,26.5),T('p=0.05 covariate',245,837,26.5,{color:'#C8202F'}),
  T('PEAK4',573,760,26.5),T('PEAK1',801,907,26.5),
  T('LOD',98,924,26.5,{align:'center',rot:R90}),
  T('{i|T. gondii} chromosome',691.5,1190,26.5,{align:'center'}),
  T('PEAK1',197.8,1313,26,{align:'center'}),T('PEAK4',503,1313,26,{align:'center'}),
  T('ChrX 42.m03493_at7',188,1350,22.5,{align:'center'}),T('ChrVIIb-VIII 55.m08219_at9',501,1350,22.5,{align:'center'}),
  T('% {i|Ifng}:YFP+',12,1513,26,{align:'center',rot:R90}),T('% {i|Ifng}:YFP+',327,1512,26,{align:'center',rot:R90}),
  T('% {i|Ifng}:YFP of CD69+ CD62L- T-GREAT',720,1313,27),
  T('% {i|Ifng}:YFP+',679,1509,26,{align:'center',rot:R90}),T('MOI',961,1700.7,26,{align:'center'})
];

const option={animation:false,backgroundColor:'#fff',grid,xAxis,yAxis,series,graphic:{elements:graphicEls},
  legend:[
    {orient:'vertical',left:620,top:612,itemWidth:100,itemHeight:4,itemGap:5,selectedMode:false,icon:'rect',
      textStyle:{fontFamily:FF,fontSize:27,color:INK,padding:[0,0,0,36]},
      data:[{name:legBlack,icon:'rect',itemStyle:{color:'#000'}},{name:legRed,icon:'rect',itemStyle:{color:'#ED1C24'}},{name:legBlue,icon:'rect',itemStyle:{color:'#0F75BC'}}]},
    {orient:'vertical',left:1176,top:1441,itemWidth:17,itemHeight:17,itemGap:5.5,selectedMode:false,
      textStyle:{fontFamily:FF,fontSize:26,color:INK,padding:[0,0,0,7],
        rich:{i:{fontFamily:FF,fontSize:26,fontStyle:'italic',color:INK},s:{fontFamily:FF,fontSize:15,fontStyle:'italic',color:INK,verticalAlign:'bottom'}}},
      formatter:n=>n===legRop?'Pru+{i|ROP16}{s|I}':n,
      data:[{name:'Pru',icon:'circle'},{name:legRop,icon:'rect'},{name:'RH',icon:'triangle'}]}
  ]};
const chart=echarts.init(document.getElementById('c'),null,{renderer:'canvas',width:1359,height:1710});
chart.setOption(option);
</script></body></html>
